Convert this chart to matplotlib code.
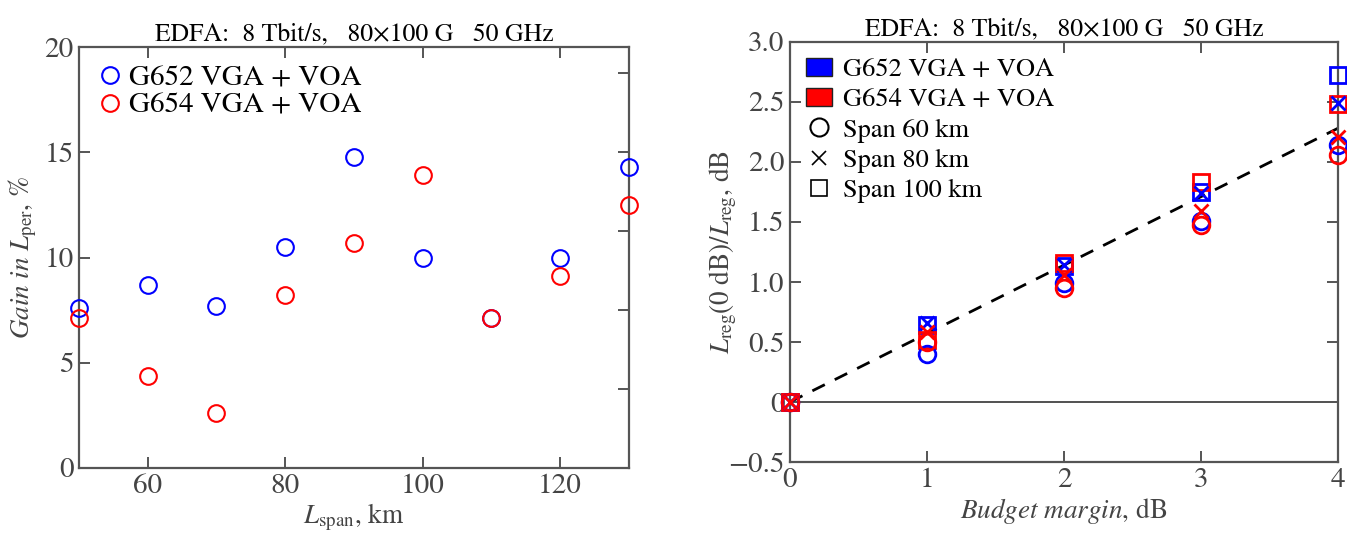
import matplotlib
matplotlib.use("Agg")
import matplotlib.pyplot as plt
from matplotlib.lines import Line2D
from matplotlib.patches import Patch
import numpy as np

plt.rcParams['font.family'] = ['STIXGeneral', 'DejaVu Serif']
plt.rcParams['mathtext.fontset'] = 'stix'

# ---------------- data ----------------
title = "EDFA:  8 Tbit/s,   80\u00d7100 G   50 GHz"

span_km = [50, 60, 70, 80, 90, 100, 110, 120, 130]
gain_g652 = [7.62, 8.71, 7.71, 10.52, 14.8, 10.0, 7.14, 10.0, 14.29]
gain_g654 = [7.14, 4.38, 2.62, 8.24, 10.67, 13.9, 7.14, 9.1, 12.52]

margin_db = [0, 1, 2, 3, 4]
g652_60 = [0.0, 0.40, 0.99, 1.51, 2.14]
g654_60 = [0.0, 0.50, 0.95, 1.475, 2.06]
g652_80 = [0.0, 0.66, 1.14, 1.74, 2.49]
g654_80 = [0.0, 0.58, 1.06, 1.59, 2.21]
g652_100 = [0.0, 0.64, 1.13, 1.75, 2.72]
g654_100 = [0.0, 0.52, 1.16, 1.83, 2.48]
fit_x = [0, 4]
fit_y = [0, 2.28]

BLUE = '#0000ff'
RED = '#ff0000'
SPINE = '#555555'
TXT = '#444444'
TICK_FS = 21
TITLE_FS = 18.5
LABEL_FS = 19.5

fig = plt.figure(figsize=(13.47, 5.36), dpi=100)

def style(ax):
    for s in ax.spines.values():
        s.set_color(SPINE)
        s.set_linewidth(1.6)
    ax.tick_params(direction='in', length=8, width=1.4, color=SPINE,
                   labelsize=TICK_FS, labelcolor=TXT, pad=4)

# ---------------- left panel ----------------
ax1 = fig.add_axes([0.0587, 0.127, 0.408, 0.785])
style(ax1)
ax1.plot(span_km, gain_g652, 'o', ms=12, mfc='none', mec=BLUE, mew=1.5,
         clip_on=False, label='G652 VGA + VOA', zorder=3)
ax1.plot(span_km, gain_g654, 'o', ms=12, mfc='none', mec=RED, mew=1.5,
         clip_on=False, label='G654 VGA + VOA', zorder=3)
ax1.set_xlim(50, 130)
ax1.set_ylim(0, 20)
ax1.set_xticks([60, 80, 100, 120])
ax1.set_yticks([0, 5, 10, 15, 20])
ax1.tick_params(top=True, right=False)
ax1r = ax1.twinx()
ax1r.set_ylim(0, 20)
ax1r.set_yticks([3.75, 7.5, 11.25, 15.0, 18.75])
ax1r.set_yticklabels([])
ax1r.tick_params(direction='in', length=8, width=1.4, color=SPINE)
for s in ax1r.spines.values():
    s.set_visible(False)
ax1.set_xlabel(r'$L_{\rm span}$, km', fontsize=LABEL_FS, color=TXT, labelpad=2)
ax1.set_ylabel(r'$\it{Gain\ in}\ L_{\rm per}$, %', fontsize=LABEL_FS, color=TXT, labelpad=4)
ax1.set_title(title, fontsize=TITLE_FS, pad=5)
ax1.legend(loc='upper left', frameon=False, fontsize=21, handletextpad=0.2,
           borderaxespad=0.3, labelspacing=0.05, handlelength=0.9,
           borderpad=0.3)

# ---------------- right panel ----------------
ax2 = fig.add_axes([0.5865, 0.138, 0.4068, 0.784])
style(ax2)
ax2.axhline(0, color='#333333', lw=1.2, zorder=1)
ax2.plot(fit_x, fit_y, '--', color='black', lw=2, dashes=(5, 4), zorder=2)
kw = dict(ls='none', mfc='none', clip_on=False, zorder=3)
ax2.plot(margin_db, g652_100, 's', ms=11, mec=BLUE, mew=2, **kw)
ax2.plot(margin_db, g654_100, 's', ms=11, mec=RED, mew=2, **kw)
ax2.plot(margin_db, g652_60, 'o', ms=12, mec=BLUE, mew=2, **kw)
ax2.plot(margin_db, g654_60, 'o', ms=12, mec=RED, mew=2, **kw)
ax2.plot(margin_db, g652_80, 'x', ms=10, mec=BLUE, mew=2, **kw)
ax2.plot(margin_db, g654_80, 'x', ms=10, mec=RED, mew=2, **kw)
ax2.set_xlim(0, 4)
ax2.set_ylim(-0.5, 3.0)
ax2.set_xticks([0, 1, 2, 3, 4])
ax2.set_yticks([-0.5, 0, 0.5, 1.0, 1.5, 2.0, 2.5, 3.0])
ax2.set_yticklabels(['\u22120.5', '0', '0.5', '1.0', '1.5', '2.0', '2.5', '3.0'])
ax2.tick_params(top=True, right=True)
ax2.set_xlabel(r'$\it{Budget\ margin}$, dB', fontsize=LABEL_FS, color=TXT, labelpad=2)
ax2.set_ylabel(r'$L_{\rm reg}(0\ {\rm dB})/L_{\rm reg}$, dB', fontsize=LABEL_FS, color=TXT, labelpad=-8)
ax2.set_title(title, fontsize=TITLE_FS, pad=5)
handles = [
    Patch(facecolor=BLUE, edgecolor='#222222', label='G652 VGA + VOA'),
    Patch(facecolor=RED, edgecolor='#222222', label='G654 VGA + VOA'),
    Line2D([], [], ls='none', marker='o', ms=13, mfc='none', mec='black', mew=1.5, label='Span 60 km'),
    Line2D([], [], ls='none', marker='x', ms=10, mec='black', mew=1.2, label='Span 80 km'),
    Line2D([], [], ls='none', marker='s', ms=12, mfc='none', mec='black', mew=1.2, label='Span 100 km'),
]
ax2.legend(handles=handles, loc='upper left', frameon=False, fontsize=19,
           handletextpad=0.4, borderaxespad=0.3, labelspacing=0.22,
           handlelength=1.0, borderpad=0.3)

fig.savefig('out.png', dpi=100)
